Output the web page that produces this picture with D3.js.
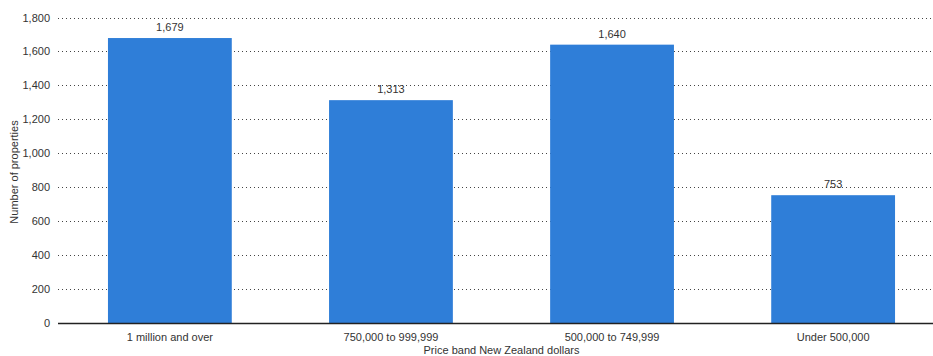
<!DOCTYPE html>
<html>
<head>
<meta charset="utf-8">
<script src="https://cdn.jsdelivr.net/npm/d3@7"></script>
<style>
  html, body { margin: 0; padding: 0; background: #fff; }
  svg { display: block; font-family: "Liberation Sans", Arial, sans-serif; }
</style>
</head>
<body>
<svg id="chart" width="933" height="356"></svg>
<script>
// Properties listed by price band
const categories = ["1 million and over", "750,000 to 999,999", "500,000 to 749,999", "Under 500,000"];
const values = [1679, 1313, 1640, 753];
const yTicks = [0, 200, 400, 600, 800, 1000, 1200, 1400, 1600, 1800];

const svg = d3.select("#chart");
const plotLeft = 58, plotRight = 933, plotTop = 17.5, plotBottom = 323;

const x = d3.scaleBand()
  .domain(categories)
  .range([plotLeft, 945])
  .paddingInner(0.44)
  .paddingOuter(0.226);

const y = d3.scaleLinear()
  .domain([0, 1800])
  .range([plotBottom, plotTop]);

const fmt = d3.format(",");

// Dotted gridlines
svg.append("g")
  .selectAll("line")
  .data(yTicks.filter(d => d > 0))
  .join("line")
  .attr("x1", plotLeft).attr("x2", plotRight)
  .attr("y1", d => Math.round(y(d)) + 0.5).attr("y2", d => Math.round(y(d)) + 0.5)
  .attr("stroke", "#444")
  .attr("stroke-width", 1)
  .attr("stroke-dasharray", "1,3");

// Y axis tick labels
const yAxis = d3.axisLeft(y).tickValues(yTicks).tickFormat(fmt).tickSize(0).tickPadding(8);
svg.append("g")
  .attr("transform", `translate(${plotLeft},0)`)
  .call(yAxis)
  .call(g => g.select(".domain").remove())
  .call(g => g.selectAll("text")
    .attr("font-size", 11)
    .attr("fill", "#333")
    .attr("font-family", "Liberation Sans, Arial, sans-serif"));

// Bars
svg.append("g")
  .selectAll("rect")
  .data(values)
  .join("rect")
  .attr("x", (d, i) => x(categories[i]))
  .attr("width", x.bandwidth())
  .attr("y", d => y(d))
  .attr("height", d => y(0) - y(d))
  .attr("fill", "#2f7ed8");

// Value labels
svg.append("g")
  .selectAll("text")
  .data(values)
  .join("text")
  .attr("x", (d, i) => x(categories[i]) + x.bandwidth() / 2)
  .attr("y", d => y(d) - 7)
  .attr("text-anchor", "middle")
  .attr("font-size", 11)
  .attr("fill", "#333")
  .text(d => fmt(d));

// Baseline
svg.append("line")
  .attr("x1", plotLeft).attr("x2", plotRight)
  .attr("y1", plotBottom + 0.5).attr("y2", plotBottom + 0.5)
  .attr("stroke", "#222")
  .attr("stroke-width", 1.5);

// X axis category labels
const xAxis = d3.axisBottom(x).tickSize(0).tickPadding(10);
svg.append("g")
  .attr("transform", `translate(0,${plotBottom})`)
  .call(xAxis)
  .call(g => g.select(".domain").remove())
  .call(g => g.selectAll("text")
    .attr("font-size", 11)
    .attr("fill", "#333")
    .attr("font-family", "Liberation Sans, Arial, sans-serif"));

// Axis titles
svg.append("text")
  .attr("x", (x(categories[0]) + x(categories[3]) + x.bandwidth()) / 2)
  .attr("y", 354)
  .attr("text-anchor", "middle")
  .attr("font-size", 11)
  .attr("fill", "#333")
  .text("Price band New Zealand dollars");

svg.append("text")
  .attr("transform", `translate(18,172) rotate(-90)`)
  .attr("text-anchor", "middle")
  .attr("font-size", 11)
  .attr("fill", "#333")
  .text("Number of properties");
</script>
</body>
</html>
